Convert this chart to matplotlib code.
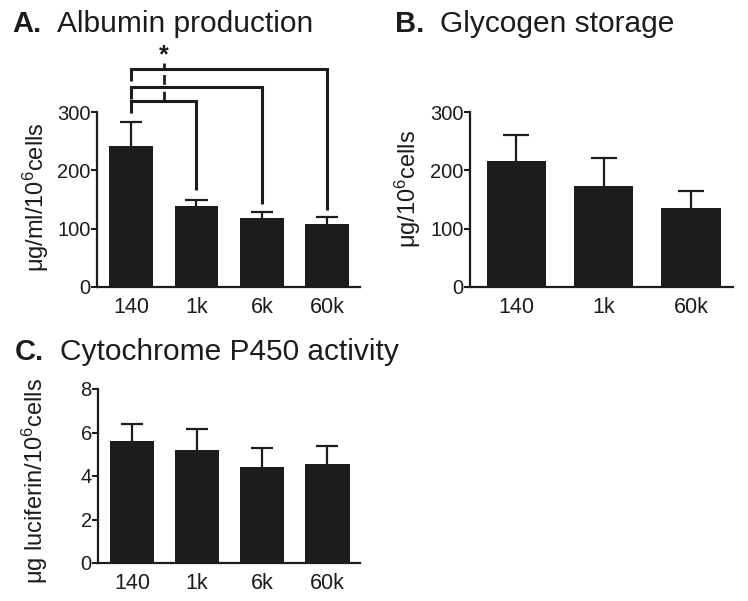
import matplotlib.pyplot as plt

plt.rcParams['font.family'] = ['Liberation Sans', 'DejaVu Sans']
plt.rcParams['mathtext.default'] = 'regular'

# A. Albumin production
alb_groups = ["140", "1k", "6k", "60k"]
alb_mean = [242, 139, 119, 108]
alb_err = [41, 10, 9, 12]

# B. Glycogen storage
gly_groups = ["140", "1k", "60k"]
gly_mean = [216, 174, 136]
gly_err = [44, 48, 28]

# C. Cytochrome P450 activity
cyp_groups = ["140", "1k", "6k", "60k"]
cyp_mean = [5.6, 5.2, 4.43, 4.57]
cyp_err = [0.8, 0.95, 0.84, 0.8]

# significance brackets in panel A: (target bar, bracket height, drop-to value)
sig_targets = [1, 2, 3]
sig_heights = [319, 343, 373]
sig_ends = [166, 142, 132]

bar_color = "#1c1c1c"
W, H = 748, 601


def box(l, b, r, t):
    return [l / W, 1 - b / H, (r - l) / W, (b - t) / H]


def style(ax, groups, means, errs, width, cap, xlim, ylim, yticks, ylabel, lab_xy):
    x = list(range(len(groups)))
    tops = [m + e for m, e in zip(means, errs)]
    ax.vlines(x, means, tops, color=bar_color, lw=1.6, zorder=1)
    ax.hlines(tops, [i - cap for i in x], [i + cap for i in x], color=bar_color, lw=1.6, zorder=1)
    ax.bar(x, means, width=width, color=bar_color, zorder=2)
    ax.set_xlim(*xlim)
    ax.set_ylim(*ylim)
    ax.set_yticks(yticks)
    ax.set_xticks(x)
    ax.set_xticklabels(groups)
    for s in ["top", "right"]:
        ax.spines[s].set_visible(False)
    for s in ["left", "bottom"]:
        ax.spines[s].set_linewidth(1.6)
        ax.spines[s].set_color(bar_color)
    ax.tick_params(axis="y", length=4, width=1.5, labelsize=14.5, pad=0.5, colors=bar_color)
    ax.tick_params(axis="x", length=0, labelsize=15.5, pad=7, colors=bar_color)
    ax.set_ylabel(ylabel, fontsize=17, color=bar_color)
    ax.yaxis.set_label_coords(*lab_xy)


fig = plt.figure(figsize=(7.48, 6.01), dpi=100)

axA = fig.add_axes(box(97, 287, 360, 112))
style(axA, alb_groups, alb_mean, alb_err, 0.67, 0.17, (-0.52, 3.5), (0, 300),
      [0, 100, 200, 300], "μg/ml/10$^{6}$cells", (-0.175, 0.515))

# brackets from the 140 bar to each other bar
for t, h, e in zip(sig_targets, sig_heights, sig_ends):
    axA.plot([0, 0, t, t], [h - 20, h, h, e], color=bar_color, lw=2.2,
             clip_on=False, solid_capstyle="butt", solid_joinstyle="miter")
axA.plot([0.5, 0.5], [sig_heights[0], 384], color=bar_color,
         lw=2, ls=(0, (3.5, 2.5)), clip_on=False)
axA.text(0.5, 418, "*", ha="center", va="top", fontsize=18,
         fontweight="bold", color=bar_color, clip_on=False)

axB = fig.add_axes(box(470, 287, 733, 112))
style(axB, gly_groups, gly_mean, gly_err, 0.68, 0.15, (-0.53, 2.48), (0, 300),
      [0, 100, 200, 300], "μg/10$^{6}$cells", (-0.178, 0.56))

axC = fig.add_axes(box(98, 563, 360, 389))
style(axC, cyp_groups, cyp_mean, cyp_err, 0.68, 0.17, (-0.52, 3.5), (0, 8),
      [0, 2, 4, 6, 8], "μg luciferin/10$^{6}$cells", (-0.183, 0.47))

titles = [(12, 24, "A.", "Albumin production"),
          (395, 24, "B.", "Glycogen storage"),
          (15, 352, "C.", "Cytochrome P450 activity")]
for x, y, letter, name in titles:
    fig.text(x / W, 1 - y / H, letter, fontsize=21, fontweight="bold",
             va="center", ha="left", color=bar_color)
    fig.text((x + 45) / W, 1 - y / H, name, fontsize=21.5, va="center",
             ha="left", color=bar_color)

fig.savefig("out.png", dpi=100)
